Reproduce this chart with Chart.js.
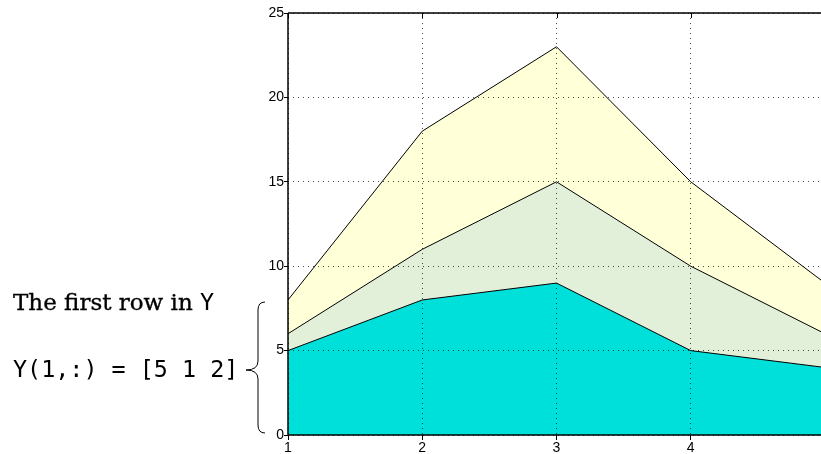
<!DOCTYPE html>
<html>
<head>
<meta charset="utf-8">
<script src="https://cdn.jsdelivr.net/npm/chart.js@4.4.0/dist/chart.umd.min.js"></script>
<style>
    html, body { margin: 0; padding: 0; background: #fff; overflow: hidden; width: 821px; height: 454px; }
    #wrap { position: absolute; left: 0; top: 0; width: 825px; height: 454px; }
    .note { position: absolute; left: 13px; white-space: pre; color: #000; line-height: 1; }
    .serif { font-family: "DejaVu Serif"; font-size: 23px; -webkit-text-stroke: 0.35px #000; }
    .mono { font-family: "DejaVu Sans Mono"; font-size: 23.4px; -webkit-text-stroke: 0; }
    #brace { position: absolute; left: 0; top: 0; pointer-events: none; }
</style>
</head>
<body>
<div id="wrap"><canvas id="areaChart"></canvas></div>
<div class="note serif" style="top:291px">The first row in <span class="mono">Y</span></div>
<div class="note mono" style="top:358px">Y(1,:) = [5 1 2]</div>
<svg id="brace" width="821" height="454">
    <path d="M265,302 Q258,302 258,310 L258,361 Q258,370 246,370 Q258,370 258,379 L258,425 Q258,433 265,433"
          fill="none" stroke="#000" stroke-width="1"/>
</svg>
<script>
// Y = [5 1 2; 8 3 7; 9 6 8; 5 5 5; 4 2 3], one array per column
const xValues = [1, 2, 3, 4, 5];
const yCol1 = [5, 8, 9, 5, 4];
const yCol2 = [1, 3, 6, 5, 2];
const yCol3 = [2, 7, 8, 5, 3];
const yTickValues = [0, 5, 10, 15, 20, 25];
const xTickValues = [1, 2, 3, 4, 5];

const fillColors = ["#00e0da", "#e2f0d9", "#ffffd8"];

function toPoints(col) {
    return xValues.map((x, i) => ({ x: x, y: col[i] }));
}

// axis box lines and the inner ticks on the top edge
const boxLines = {
    id: "boxLines",
    afterDraw(chart) {
        const { ctx, chartArea } = chart;
        const xs = chart.scales.x;
        ctx.save();
        ctx.strokeStyle = "#000";
        ctx.lineWidth = 1.5;
        ctx.beginPath();
        ctx.moveTo(chartArea.left, chartArea.top);
        ctx.lineTo(chartArea.right + 2, chartArea.top);
        ctx.moveTo(chartArea.left, chartArea.top);
        ctx.lineTo(chartArea.left, chartArea.bottom);
        ctx.lineTo(chartArea.right + 2, chartArea.bottom);
        ctx.stroke();
        ctx.lineWidth = 1;
        ctx.beginPath();
        for (const v of xTickValues) {
            const px = Math.round(xs.getPixelForValue(v)) + 0.5;
            ctx.moveTo(px, chartArea.top);
            ctx.lineTo(px, chartArea.top + 5);
        }
        ctx.stroke();
        ctx.restore();
    }
};

document.addEventListener("DOMContentLoaded", function () {
    const ctx = document.getElementById("areaChart").getContext("2d");
    const cols = [yCol1, yCol2, yCol3];
    new Chart(ctx, {
        type: "line",
        data: {
            datasets: cols.map((col, i) => ({
                data: toPoints(col),
                backgroundColor: fillColors[i],
                borderColor: "#000",
                borderWidth: 1,
                pointRadius: 0,
                tension: 0,
                fill: i === 0 ? "origin" : "-1"
            }))
        },
        options: {
            responsive: true,
            maintainAspectRatio: false,
            animation: false,
            layout: { padding: { left: 248, top: 13, right: 0, bottom: 0 } },
            plugins: {
                legend: { display: false },
                tooltip: { enabled: false }
            },
            scales: {
                x: {
                    type: "linear",
                    min: 1,
                    max: 5,
                    afterBuildTicks: (s) => { s.ticks = xTickValues.map(v => ({ value: v })); },
                    afterFit: (s) => { s.height = 19; },
                    ticks: {
                        color: "#000",
                        padding: 0,
                        maxRotation: 0,
                        font: { family: "Liberation Sans", size: 14 },
                        callback: (v) => (v === 5 ? "" : String(v))
                    },
                    grid: {
                        color: "rgba(0,0,0,0.7)",
                        tickColor: "#000",
                        tickLength: 5,
                        z: 1
                    },
                    border: { display: false, dash: [1, 4] }
                },
                y: {
                    stacked: true,
                    min: 0,
                    max: 25,
                    afterBuildTicks: (s) => { s.ticks = yTickValues.map(v => ({ value: v })); },
                    afterFit: (s) => { s.width = 40; },
                    ticks: {
                        color: "#000",
                        padding: 0,
                        font: { family: "Liberation Sans", size: 14 }
                    },
                    grid: {
                        color: "rgba(0,0,0,0.7)",
                        tickColor: "#000",
                        tickLength: 4,
                        z: 1
                    },
                    border: { display: false, dash: [1, 4] }
                }
            }
        },
        plugins: [boxLines]
    });
});
</script>
</body>
</html>
